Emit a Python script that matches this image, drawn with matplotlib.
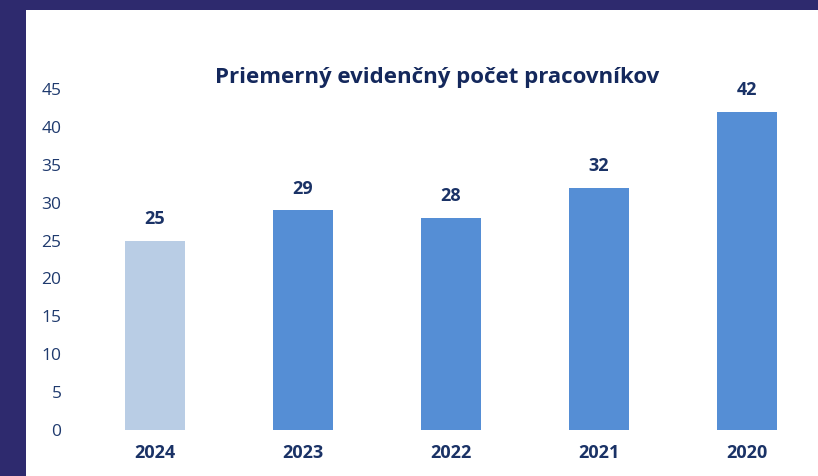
import matplotlib
matplotlib.use("Agg")
import matplotlib.pyplot as plt
from matplotlib.patches import Rectangle

years = ["2024", "2023", "2022", "2021", "2020"]
values = [25, 29, 28, 32, 42]
bar_colors = ["#B9CDE5", "#558ED5", "#558ED5", "#558ED5", "#558ED5"]
yticks = [0, 5, 10, 15, 20, 25, 30, 35, 40, 45]
title = "Priemerný evidenčný počet pracovníkov"

plt.rcParams['font.family'] = ['Open Sans', 'DejaVu Sans']
W, H = 818, 476
fig = plt.figure(figsize=(W / 100, H / 100), dpi=100)
fig.patch.set_facecolor("#2E2A6E")
fig.add_artist(Rectangle((26 / W, 0), 1 - 26 / W, (H - 10) / H,
                         transform=fig.transFigure, facecolor="white",
                         edgecolor="none", zorder=0))

ax = fig.add_axes([81 / W, (H - 430) / H, (818 - 81) / W, (430 - 89) / H])
ax.set_facecolor("none")
x = list(range(len(years)))
ax.bar(x, values, width=0.4, color=bar_colors, zorder=2)
ax.set_xlim(-0.5, 4.48)
ax.set_ylim(0, 45)
ax.set_yticks(yticks)
ax.set_xticks(x)
ax.set_xticklabels(years, fontsize=13, fontweight="bold", color="#1A3266")
ax.tick_params(axis="y", labelsize=12.5, labelcolor="#1F3A6E", length=0, pad=14)
ax.tick_params(axis="x", length=0, pad=10)
for s in ax.spines.values():
    s.set_visible(False)
for xi, v in zip(x, values):
    ax.annotate(str(v), (xi, v), xytext=(0, 9), textcoords="offset points",
                ha="center", va="bottom", fontsize=13, fontweight="bold",
                color="#1A3266")

fig.text(437 / W, (H - 77) / H, title, ha="center", va="center",
         fontsize=16, fontweight="bold", color="#14285C")

fig.savefig("out.png", dpi=100, facecolor=fig.get_facecolor())
